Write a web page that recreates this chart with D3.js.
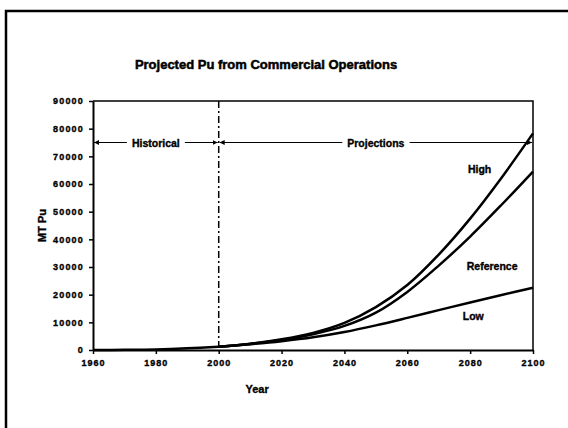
<!DOCTYPE html>
<html>
<head>
<meta charset="utf-8">
<script src="https://cdn.jsdelivr.net/npm/d3@7"></script>
<style>
  body { margin: 0; background: #fff; }
  svg { display: block; font-family: "Liberation Sans", Arial, sans-serif; }
  text { stroke: #000; stroke-width: 0.35px; }
</style>
</head>
<body>
<svg width="568" height="428"></svg>
<script>
// values
const histYears = [1960, 1970, 1980, 1990, 2000];
const histValues = [0, 50, 200, 600, 1200];

const projYears = [2000, 2010, 2020, 2030, 2040, 2050, 2060, 2070, 2080, 2090, 2100];
const highValues = [1200, 2300, 3900, 6200, 9800, 15500, 23500, 34500, 47500, 62300, 78300];
const refValues = [1200, 2200, 3600, 5700, 8700, 13500, 21000, 30500, 41000, 52500, 64500];
const lowValues = [1200, 2100, 3200, 4600, 6500, 8900, 11600, 14400, 17200, 19900, 22500];

const xTicks = [1960, 1980, 2000, 2020, 2040, 2060, 2080, 2100];
const yTicks = [0, 10000, 20000, 30000, 40000, 50000, 60000, 70000, 80000, 90000];

const seriesLabels = [
  {name: "High", year: 2083, value: 64000},
  {name: "Reference", year: 2087, value: 29000},
  {name: "Low", year: 2081, value: 11000}
];

const margin = {top: 101, right: 35, bottom: 78, left: 93};
const width = 568 - margin.left - margin.right,
      height = 428 - margin.top - margin.bottom;

const svg = d3.select("svg");

// outer frame (runs off the right and bottom edges)
svg.append("path")
    .attr("d", "M6,428 V11 H568")
    .attr("fill", "none")
    .attr("stroke", "#000")
    .attr("stroke-width", 2.5);

svg.append("text")
    .attr("x", 266)
    .attr("y", 69)
    .attr("text-anchor", "middle")
    .attr("font-size", "13px")
    .attr("font-weight", "bold")
    .style("stroke-width", "0.5px")
    .text("Projected Pu from Commercial Operations");

const g = svg.append("g")
    .attr("transform", `translate(${margin.left}, ${margin.top})`);

const x = d3.scaleLinear().domain([1960, 2100]).range([0, width]);
const y = d3.scaleLinear().domain([0, 90000]).range([height, 0]);

// plot box top + right
g.append("path")
    .attr("d", `M0,0 H${width} V${height}`)
    .attr("fill", "none")
    .attr("stroke", "#000")
    .attr("stroke-width", 1.5);

const xAxis = g.append("g")
    .attr("transform", `translate(0, ${height})`)
    .call(d3.axisBottom(x).tickValues(xTicks).tickFormat(d3.format("d")).tickSize(4).tickSizeOuter(0));
xAxis.select(".domain").attr("stroke-width", 2);
xAxis.selectAll(".tick line").attr("stroke-width", 1.5);
xAxis.selectAll("text")
    .attr("y", 10)
    .attr("font-size", "9px")
    .attr("font-weight", "bold")
    .attr("letter-spacing", "1px")
    .attr("font-family", "Liberation Sans, Arial, sans-serif")
    .attr("fill", "#000");

const yAxis = g.append("g")
    .call(d3.axisLeft(y).tickValues(yTicks).tickFormat(d3.format("d")).tickSize(4).tickSizeOuter(0));
yAxis.select(".domain").attr("stroke-width", 2);
yAxis.selectAll(".tick line").attr("stroke-width", 1.5);
yAxis.selectAll("text")
    .attr("x", -9)
    .attr("font-size", "9px")
    .attr("font-weight", "bold")
    .attr("letter-spacing", "1.2px")
    .attr("font-family", "Liberation Sans, Arial, sans-serif")
    .attr("fill", "#000");

// axis titles
g.append("text")
    .attr("x", x(2010) + 7)
    .attr("y", height + 43)
    .attr("text-anchor", "middle")
    .attr("font-size", "11px")
    .attr("font-weight", "bold")
    .text("Year");

g.append("text")
    .attr("transform", `translate(-47, ${y(45000)}) rotate(-90)`)
    .attr("text-anchor", "middle")
    .attr("font-size", "11px")
    .attr("font-weight", "bold")
    .text("MT Pu");

// dash-dot divider at 2000
g.append("line")
    .attr("x1", x(2000)).attr("x2", x(2000))
    .attr("y1", 0).attr("y2", height)
    .attr("stroke", "#000")
    .attr("stroke-width", 1.5)
    .attr("stroke-dasharray", "7,3,2,3");

// arrows for Historical / Projections
const defs = svg.append("defs");
defs.append("marker")
    .attr("id", "arr")
    .attr("viewBox", "0 0 10 10")
    .attr("refX", 10).attr("refY", 5)
    .attr("markerWidth", 5).attr("markerHeight", 5)
    .attr("orient", "auto-start-reverse")
    .append("path")
    .attr("d", "M0,0 L10,5 L0,10 Z")
    .attr("fill", "#000");

const spans = [
  {label: "Historical", from: 1960, to: 2000},
  {label: "Projections", from: 2000, to: 2100}
];
const yArrow = y(75000);
spans.forEach(s => {
    g.append("line")
        .attr("x1", x(s.from) + 1).attr("x2", x(s.to) - 1)
        .attr("y1", yArrow).attr("y2", yArrow)
        .attr("stroke", "#000")
        .attr("stroke-width", 1)
        .attr("marker-start", "url(#arr)")
        .attr("marker-end", "url(#arr)");
    const t = g.append("text")
        .attr("x", (x(s.from) + x(s.to)) / 2)
        .attr("y", yArrow + 4)
        .attr("text-anchor", "middle")
        .attr("font-size", "10.5px")
        .attr("font-weight", "bold")
        .text(s.label);
    const bb = t.node().getBBox();
    g.insert("rect", () => t.node())
        .attr("x", bb.x - 5).attr("y", yArrow - 3)
        .attr("width", bb.width + 10).attr("height", 6)
        .attr("fill", "#fff");
});

// curves
const line = d3.line()
    .x(d => x(d[0]))
    .y(d => y(d[1]))
    .curve(d3.curveCatmullRom.alpha(0.5));

const curves = [
  d3.zip(histYears, histValues),
  d3.zip(projYears, highValues),
  d3.zip(projYears, refValues),
  d3.zip(projYears, lowValues)
];

g.append("g")
    .selectAll("path")
    .data(curves)
    .join("path")
    .attr("d", line)
    .attr("fill", "none")
    .attr("stroke", "#000")
    .attr("stroke-width", 2.5);

g.append("g")
    .selectAll("text")
    .data(seriesLabels)
    .join("text")
    .attr("x", d => x(d.year))
    .attr("y", d => y(d.value))
    .attr("text-anchor", "middle")
    .attr("font-size", "10.5px")
    .attr("font-weight", "bold")
    .text(d => d.name);
</script>
</body>
</html>
